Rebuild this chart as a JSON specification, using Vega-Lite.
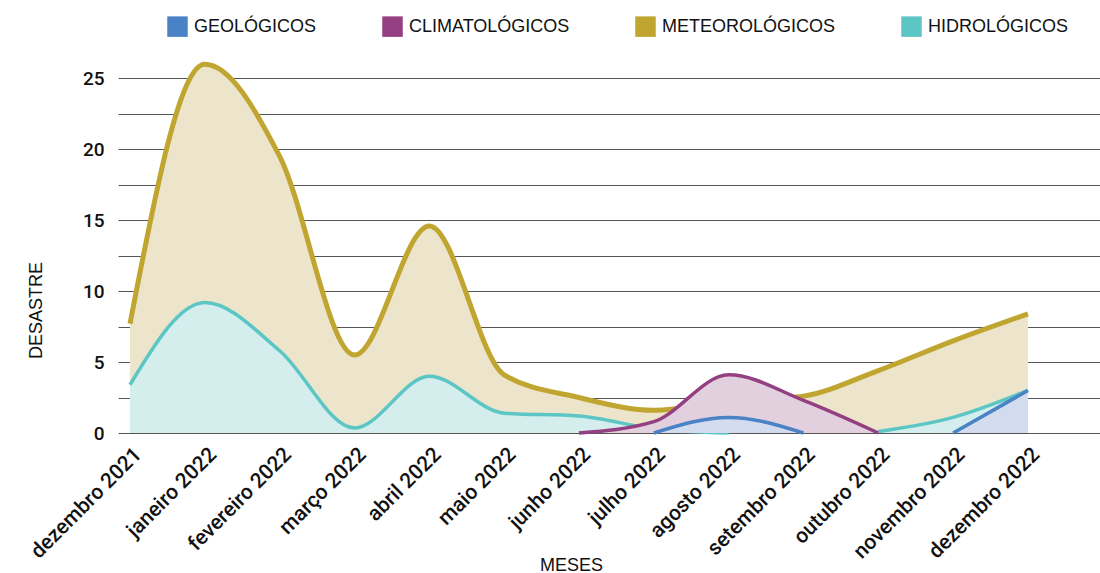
{
  "$schema": "https://vega.github.io/schema/vega-lite/v6.json",
  "autosize": "none",
  "width": 982,
  "height": 383,
  "padding": {"left": 118, "top": 50, "right": 0, "bottom": 140},
  "background": "white",
  "config": {
    "view": {"stroke": null},
    "font": "Roboto",
    "legend": {"labelFont": "Liberation Sans", "labelFontSize": 18, "labelColor": "#111", "labelLimit": 0}
  },
  "data": {
    "values": [
      {"mes": "dezembro 2021", "tipo": "METEOROLÓGICOS", "valor": 7.7},
      {"mes": "janeiro 2022", "tipo": "METEOROLÓGICOS", "valor": 26},
      {"mes": "fevereiro 2022", "tipo": "METEOROLÓGICOS", "valor": 19.5},
      {"mes": "março 2022", "tipo": "METEOROLÓGICOS", "valor": 5.5},
      {"mes": "abril 2022", "tipo": "METEOROLÓGICOS", "valor": 14.6},
      {"mes": "maio 2022", "tipo": "METEOROLÓGICOS", "valor": 4.1},
      {"mes": "junho 2022", "tipo": "METEOROLÓGICOS", "valor": 2.5},
      {"mes": "julho 2022", "tipo": "METEOROLÓGICOS", "valor": 1.6},
      {"mes": "agosto 2022", "tipo": "METEOROLÓGICOS", "valor": 2.2},
      {"mes": "setembro 2022", "tipo": "METEOROLÓGICOS", "valor": 2.6},
      {"mes": "outubro 2022", "tipo": "METEOROLÓGICOS", "valor": 4.4},
      {"mes": "novembro 2022", "tipo": "METEOROLÓGICOS", "valor": 6.5},
      {"mes": "dezembro 2022", "tipo": "METEOROLÓGICOS", "valor": 8.4},
      {"mes": "dezembro 2021", "tipo": "HIDROLÓGICOS", "valor": 3.4},
      {"mes": "janeiro 2022", "tipo": "HIDROLÓGICOS", "valor": 9.2},
      {"mes": "fevereiro 2022", "tipo": "HIDROLÓGICOS", "valor": 5.8},
      {"mes": "março 2022", "tipo": "HIDROLÓGICOS", "valor": 0.35},
      {"mes": "abril 2022", "tipo": "HIDROLÓGICOS", "valor": 4.0},
      {"mes": "maio 2022", "tipo": "HIDROLÓGICOS", "valor": 1.4},
      {"mes": "junho 2022", "tipo": "HIDROLÓGICOS", "valor": 1.2},
      {"mes": "julho 2022", "tipo": "HIDROLÓGICOS", "valor": 0.3},
      {"mes": "agosto 2022", "tipo": "HIDROLÓGICOS", "valor": 0},
      {"mes": "setembro 2022", "tipo": "HIDROLÓGICOS", "valor": null},
      {"mes": "outubro 2022", "tipo": "HIDROLÓGICOS", "valor": 0.1},
      {"mes": "novembro 2022", "tipo": "HIDROLÓGICOS", "valor": 1.1},
      {"mes": "dezembro 2022", "tipo": "HIDROLÓGICOS", "valor": 3.0},
      {"mes": "dezembro 2021", "tipo": "CLIMATOLÓGICOS", "valor": null},
      {"mes": "janeiro 2022", "tipo": "CLIMATOLÓGICOS", "valor": null},
      {"mes": "fevereiro 2022", "tipo": "CLIMATOLÓGICOS", "valor": null},
      {"mes": "março 2022", "tipo": "CLIMATOLÓGICOS", "valor": null},
      {"mes": "abril 2022", "tipo": "CLIMATOLÓGICOS", "valor": null},
      {"mes": "maio 2022", "tipo": "CLIMATOLÓGICOS", "valor": null},
      {"mes": "junho 2022", "tipo": "CLIMATOLÓGICOS", "valor": 0},
      {"mes": "julho 2022", "tipo": "CLIMATOLÓGICOS", "valor": 0.8},
      {"mes": "agosto 2022", "tipo": "CLIMATOLÓGICOS", "valor": 4.1},
      {"mes": "setembro 2022", "tipo": "CLIMATOLÓGICOS", "valor": 2.3},
      {"mes": "outubro 2022", "tipo": "CLIMATOLÓGICOS", "valor": 0},
      {"mes": "novembro 2022", "tipo": "CLIMATOLÓGICOS", "valor": null},
      {"mes": "dezembro 2022", "tipo": "CLIMATOLÓGICOS", "valor": null},
      {"mes": "dezembro 2021", "tipo": "GEOLÓGICOS", "valor": null},
      {"mes": "janeiro 2022", "tipo": "GEOLÓGICOS", "valor": null},
      {"mes": "fevereiro 2022", "tipo": "GEOLÓGICOS", "valor": null},
      {"mes": "março 2022", "tipo": "GEOLÓGICOS", "valor": null},
      {"mes": "abril 2022", "tipo": "GEOLÓGICOS", "valor": null},
      {"mes": "maio 2022", "tipo": "GEOLÓGICOS", "valor": null},
      {"mes": "junho 2022", "tipo": "GEOLÓGICOS", "valor": null},
      {"mes": "julho 2022", "tipo": "GEOLÓGICOS", "valor": 0},
      {"mes": "agosto 2022", "tipo": "GEOLÓGICOS", "valor": 1.1},
      {"mes": "setembro 2022", "tipo": "GEOLÓGICOS", "valor": 0},
      {"mes": "outubro 2022", "tipo": "GEOLÓGICOS", "valor": null},
      {"mes": "novembro 2022", "tipo": "GEOLÓGICOS", "valor": 0},
      {"mes": "dezembro 2022", "tipo": "GEOLÓGICOS", "valor": 3.0}
    ]
  },
  "encoding": {
    "x": {
      "field": "mes",
      "type": "ordinal",
      "scale": {
        "type": "point",
        "domain": ["dezembro 2021", "janeiro 2022", "fevereiro 2022", "março 2022", "abril 2022", "maio 2022", "junho 2022", "julho 2022", "agosto 2022", "setembro 2022", "outubro 2022", "novembro 2022", "dezembro 2022"],
        "padding": 0.5615,
        "align": 0.1429
      },
      "axis": {
        "title": "MESES",
        "titleFont": "Liberation Sans",
        "titleFontSize": 18,
        "titleFontWeight": "normal",
        "titleColor": "#111",
        "titleX": 453,
        "titleY": 137,
        "titleAlign": "center",
        "titleBaseline": "alphabetic",
        "labelAngle": -45,
        "labelAlign": "right",
        "labelBaseline": "middle",
        "labelFont": "Roboto",
        "labelFontSize": 21,
        "labelFontWeight": 500,
        "labelColor": "#111",
        "labelPadding": 18,
        "labelOffset": 8,
        "labelLimit": 0,
        "labelOverlap": false,
        "ticks": false,
        "domain": false,
        "grid": false
      }
    },
    "y": {
      "field": "valor",
      "type": "quantitative",
      "scale": {"domain": [0, 27], "nice": false},
      "axis": {
        "title": "DESASTRE",
        "titleFont": "Liberation Sans",
        "titleFontSize": 18,
        "titleFontWeight": "normal",
        "titleColor": "#111",
        "titleAngle": -90,
        "titleAlign": "center",
        "titleBaseline": "middle",
        "titleX": -82,
        "titleY": 260,
        "values": [0, 2.5, 5, 7.5, 10, 12.5, 15, 17.5, 20, 22.5, 25],
        "labelExpr": "datum.value % 5 === 0 ? datum.label : ''",
        "labelFont": "Roboto",
        "labelFontSize": 19,
        "labelFontWeight": 500,
        "labelColor": "#111",
        "labelPadding": 14,
        "ticks": false,
        "domain": false,
        "grid": true,
        "gridColor": "#555555",
        "gridWidth": 1.2
      }
    },
    "color": {
      "field": "tipo",
      "type": "nominal",
      "scale": {
        "domain": ["GEOLÓGICOS", "CLIMATOLÓGICOS", "METEOROLÓGICOS", "HIDROLÓGICOS"],
        "range": ["#4A82C6", "#943F82", "#C0A630", "#5BC6C4"]
      },
      "legend": {
        "title": null,
        "orient": "none",
        "direction": "horizontal",
        "legendX": 49,
        "legendY": -34,
        "symbolType": "square",
        "symbolSize": 420,
        "symbolStrokeWidth": 0,
        "labelOffset": 6,
        "columnPadding": 65,
        "encode": {
          "symbols": {"update": {"fill": {"scale": "color", "field": "value"}, "fillOpacity": {"value": 1}, "strokeWidth": {"value": 0}}}
        }
      }
    }
  },
  "layer": [
    {
      "transform": [{"filter": "datum.tipo === 'METEOROLÓGICOS'"}],
      "mark": {"type": "area", "interpolate": "monotone", "opacity": 1},
      "encoding": {"color": {"value": "#EDE5CB"}}
    },
    {
      "transform": [{"filter": "datum.tipo === 'METEOROLÓGICOS'"}],
      "mark": {"type": "line", "interpolate": "monotone", "strokeWidth": 5, "strokeCap": "butt", "strokeJoin": "round"}
    },
    {
      "transform": [{"filter": "datum.tipo === 'HIDROLÓGICOS'"}],
      "mark": {"type": "area", "interpolate": "monotone", "opacity": 1},
      "encoding": {"color": {"value": "#D4EDED"}}
    },
    {
      "transform": [{"filter": "datum.tipo === 'HIDROLÓGICOS'"}],
      "mark": {"type": "line", "interpolate": "monotone", "strokeWidth": 3.5, "strokeCap": "butt"}
    },
    {
      "transform": [{"filter": "datum.tipo === 'CLIMATOLÓGICOS'"}],
      "mark": {"type": "area", "interpolate": "monotone", "opacity": 1},
      "encoding": {"color": {"value": "#E2D0DF"}}
    },
    {
      "transform": [{"filter": "datum.tipo === 'CLIMATOLÓGICOS'"}],
      "mark": {"type": "line", "interpolate": "monotone", "strokeWidth": 3.5, "strokeCap": "butt"}
    },
    {
      "transform": [{"filter": "datum.tipo === 'GEOLÓGICOS'"}],
      "mark": {"type": "area", "interpolate": "monotone", "opacity": 1},
      "encoding": {"color": {"value": "#D3DCEE"}}
    },
    {
      "transform": [{"filter": "datum.tipo === 'GEOLÓGICOS'"}],
      "mark": {"type": "line", "interpolate": "monotone", "strokeWidth": 3.5, "strokeCap": "butt"}
    }
  ]
}
